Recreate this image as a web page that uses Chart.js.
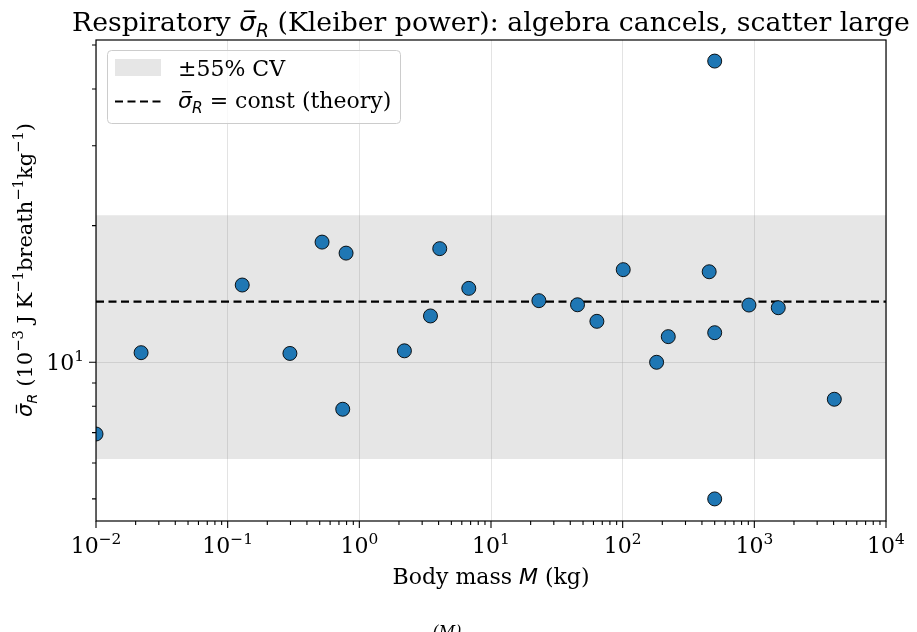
<!DOCTYPE html>
<html>
<head>
<meta charset="utf-8">
<script src="https://cdn.jsdelivr.net/npm/chart.js@4/dist/chart.umd.min.js"></script>
<style>
  html, body { margin: 0; padding: 0; background: #fff; }
  canvas { display: block; }
</style>
</head>
<body>
<canvas id="sigmaChart" width="917" height="632"></canvas>
<script>
// data
const masses = [0.01, 0.022, 0.129, 0.297, 0.521, 0.748, 0.793, 2.2, 3.47, 4.08, 6.78,
  23.1, 45.4, 63.7, 101, 181, 222, 454, 500, 500, 500, 910, 1520, 4050];
const sigmaR = [6.95, 10.5, 14.8, 10.46, 18.4, 7.88, 17.4, 10.6, 12.65, 17.8, 14.55,
  13.67, 13.39, 12.31, 16.0, 10.0, 11.39, 15.83, 46.1, 11.62, 5.0, 13.37, 13.19, 8.29];
const sigmaConst = 13.6;   // theory line
const cvBand = 0.55;       // +-55% CV

const xRange = [0.01, 10000];
const yRange = [4.47, 51.3];
const xMajorTicks = [0.01, 0.1, 1, 10, 100, 1000, 10000];
const xTickExp = ['\u22122', '\u22121', '0', '1', '2', '3', '4'];
const yMajorTicks = [10];
const yTickExp = ['1'];

const SERIF = "'DejaVu Serif', serif";
const SANS = "'DejaVu Sans', sans-serif";
const bandColor = 'rgba(128,128,128,0.2)';
const FS = 22;       // 10pt at the figure dpi
const FS_TITLE = 26.7;

// --- little mathtext-ish renderer: segments with sub/sup/italic/bar
function segFont(s, size) {
  const fs = (s.sub || s.sup) ? size * 0.7 : size;
  return (s.mi ? 'italic ' : '') + fs + 'px ' + (s.mi ? SANS : SERIF);
}
function richWidth(ctx, segs, size) {
  let w = 0;
  segs.forEach(s => { ctx.font = segFont(s, size); w += ctx.measureText(s.t).width; });
  return w;
}
function drawRich(ctx, segs, x, y, size, align) {
  const w = richWidth(ctx, segs, size);
  let cx = align === 'center' ? x - w / 2 : align === 'right' ? x - w : x;
  ctx.textAlign = 'left';
  ctx.textBaseline = 'alphabetic';
  segs.forEach(s => {
    ctx.font = segFont(s, size);
    const dy = s.sub ? size * 0.22 : s.sup ? -size * 0.42 : 0;
    ctx.fillText(s.t, cx, y + dy);
    const sw = ctx.measureText(s.t).width;
    if (s.bar) {
      ctx.save();
      ctx.lineWidth = size * 0.06;
      ctx.beginPath();
      ctx.moveTo(cx + sw * 0.28, y - size * 0.74);
      ctx.lineTo(cx + sw * 0.92, y - size * 0.74);
      ctx.stroke();
      ctx.restore();
    }
    cx += sw;
  });
  return w;
}

const sigSegs = [{ t: '\u03c3', mi: 1, bar: 1 }, { t: 'R', mi: 1, sub: 1 }];

const decor = {
  id: 'decor',
  afterDraw(chart) {
    const ctx = chart.ctx;
    const a = chart.chartArea;
    const xs = chart.scales.x, ys = chart.scales.y;
    ctx.save();
    ctx.fillStyle = '#000';
    ctx.strokeStyle = '#000';

    // spines
    ctx.lineWidth = 1.2;
    ctx.strokeRect(a.left, a.top, a.right - a.left, a.bottom - a.top);

    // x ticks
    ctx.lineWidth = 1.1;
    ctx.beginPath();
    xMajorTicks.forEach(v => {
      const px = xs.getPixelForValue(v);
      ctx.moveTo(px, a.bottom); ctx.lineTo(px, a.bottom + 7);
    });
    for (let d = xRange[0]; d < xRange[1]; d *= 10) {
      for (let k = 2; k <= 9; k++) {
        const px = xs.getPixelForValue(k * d);
        ctx.moveTo(px, a.bottom); ctx.lineTo(px, a.bottom + 4);
      }
    }
    // y ticks
    yMajorTicks.forEach(v => {
      const py = ys.getPixelForValue(v);
      ctx.moveTo(a.left, py); ctx.lineTo(a.left - 7, py);
    });
    [1, 10].forEach(d => {
      for (let k = 2; k <= 9; k++) {
        const v = k * d;
        if (v < yRange[0] || v > yRange[1]) continue;
        const py = ys.getPixelForValue(v);
        ctx.moveTo(a.left, py); ctx.lineTo(a.left - 4, py);
      }
    });
    ctx.stroke();

    // tick labels
    xMajorTicks.forEach((v, i) => {
      drawRich(ctx, [{ t: '10' }, { t: xTickExp[i], sup: 1 }], xs.getPixelForValue(v), a.bottom + 32, FS, 'center');
    });
    yMajorTicks.forEach((v, i) => {
      drawRich(ctx, [{ t: '10' }, { t: yTickExp[i], sup: 1 }], a.left - 12, ys.getPixelForValue(v) + 8, FS, 'right');
    });

    // axis labels
    drawRich(ctx, [{ t: 'Body mass ' }, { t: 'M', mi: 1 }, { t: ' (kg)' }], (a.left + a.right) / 2, 584, FS, 'center');
    ctx.save();
    ctx.translate(32, 270);
    ctx.rotate(-Math.PI / 2);
    drawRich(ctx, sigSegs.concat([
      { t: ' (10' }, { t: '\u22123', sup: 1 }, { t: ' J K' }, { t: '\u22121', sup: 1 },
      { t: 'breath' }, { t: '\u22121', sup: 1 }, { t: 'kg' }, { t: '\u22121', sup: 1 }, { t: ')' }
    ]), 0, 0, 21, 'center');
    ctx.restore();

    // title
    drawRich(ctx, [{ t: 'Respiratory ' }].concat(sigSegs, [{ t: ' (Kleiber power): algebra cancels, scatter large' }]),
      (a.left + a.right) / 2, 31, FS_TITLE, 'center');

    // legend
    const lx = 107, ly = 50, lw = 293, lh = 73;
    ctx.fillStyle = 'rgba(255,255,255,0.8)';
    ctx.strokeStyle = '#cccccc';
    ctx.lineWidth = 1;
    ctx.beginPath();
    ctx.roundRect(lx + 0.5, ly + 0.5, lw, lh, 4);
    ctx.fill(); ctx.stroke();
    ctx.fillStyle = bandColor;
    ctx.fillRect(115, 59, 46, 17);
    ctx.strokeStyle = '#000';
    ctx.lineWidth = 2.2;
    ctx.setLineDash([8, 4.5]);
    ctx.beginPath(); ctx.moveTo(115, 101.5); ctx.lineTo(161, 101.5); ctx.stroke();
    ctx.setLineDash([]);
    ctx.fillStyle = '#000';
    drawRich(ctx, [{ t: '\u00b155% CV' }], 178, 76, FS, 'left');
    drawRich(ctx, sigSegs.concat([{ t: ' = ' }, { t: 'const (theory)' }]), 178, 108, FS, 'left');

    // clipped fragment of a caption under the figure
    ctx.font = 'italic 16px ' + SERIF;
    ctx.textAlign = 'center';
    ctx.fillText('(M)', 447, 637);
    ctx.restore();
  }
};

const ctx = document.getElementById('sigmaChart').getContext('2d');
new Chart(ctx, {
  type: 'scatter',
  data: {
    datasets: [
      {
        label: 'data',
        data: masses.map((m, i) => ({ x: m, y: sigmaR[i] })),
        backgroundColor: '#1f77b4',
        borderColor: '#000',
        borderWidth: 0.9,
        pointRadius: 7,
        clip: 0,
        order: 0
      },
      {
        type: 'line',
        label: 'theory',
        data: xRange.map(x => ({ x: x, y: sigmaConst })),
        borderColor: '#000',
        borderWidth: 2.2,
        borderDash: [8, 4.5],
        pointRadius: 0,
        fill: false,
        order: 1
      },
      {
        type: 'line',
        label: 'band',
        data: xRange.map(x => ({ x: x, y: sigmaConst * (1 + cvBand) })),
        borderWidth: 0,
        pointRadius: 0,
        backgroundColor: bandColor,
        fill: { value: sigmaConst * (1 - cvBand) },
        order: 2
      }
    ]
  },
  options: {
    responsive: false,
    animation: false,
    layout: { padding: { top: 40, right: 31, bottom: 0, left: 0 } },
    plugins: {
      legend: { display: false },
      tooltip: { enabled: false }
    },
    scales: {
      x: {
        type: 'logarithmic',
        min: xRange[0],
        max: xRange[1],
        afterBuildTicks: s => { s.ticks = xMajorTicks.map(v => ({ value: v })); },
        afterFit: s => { s.height = 111; },
        ticks: { display: false },
        border: { display: false },
        grid: { color: 'rgba(176,176,176,0.35)', lineWidth: 1, drawTicks: false }
      },
      y: {
        type: 'logarithmic',
        min: yRange[0],
        max: yRange[1],
        afterBuildTicks: s => { s.ticks = yMajorTicks.map(v => ({ value: v })); },
        afterFit: s => { s.width = 96; },
        ticks: { display: false },
        border: { display: false },
        grid: { color: 'rgba(176,176,176,0.35)', lineWidth: 1, drawTicks: false }
      }
    }
  },
  plugins: [decor]
});
</script>
</body>
</html>
